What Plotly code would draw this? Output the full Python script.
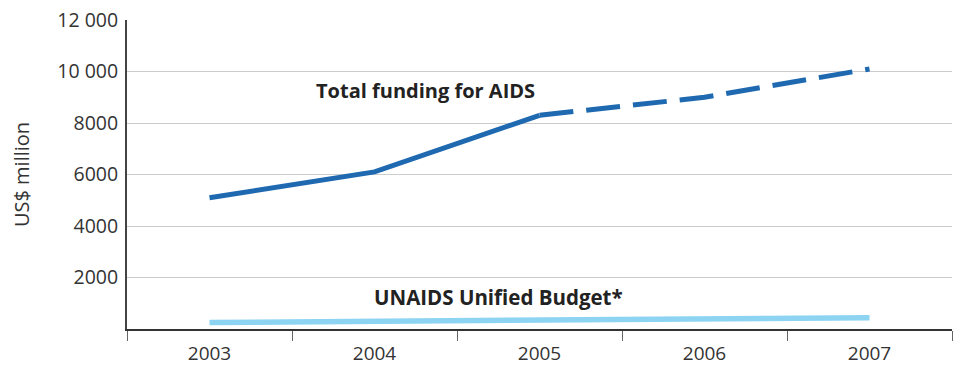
import plotly.graph_objects as go

years = ["2003", "2004", "2005", "2006", "2007"]
total_funding = [5100, 6100, 8300, 9000, 10100]
unified_budget = [250, 290, 320, 400, 440]
ytick_vals = [2000, 4000, 6000, 8000, 10000, 12000]
ytick_text = ["2000", "4000", "6000", "8000", "10 000", "12 000"]

DARK_BLUE = "#1f69b0"
LIGHT_BLUE = "#8dd4f3"
FONT = "'Open Sans', Lato, sans-serif"

fig = go.Figure()

# Actual totals (solid) up to 2005, projections (dashed) afterwards
fig.add_trace(go.Scatter(
    x=years[:3], y=total_funding[:3], mode="lines",
    line=dict(color=DARK_BLUE, width=5), hoverinfo="skip", showlegend=False,
))
fig.add_trace(go.Scatter(
    x=years[2:], y=total_funding[2:], mode="lines",
    line=dict(color=DARK_BLUE, width=5, dash="34px,13px"),
    hoverinfo="skip", showlegend=False,
))
fig.add_trace(go.Scatter(
    x=years, y=unified_budget, mode="lines",
    line=dict(color=LIGHT_BLUE, width=5.5), hoverinfo="skip", showlegend=False,
))

fig.add_annotation(x=1.31, y=9250, text="<b>Total funding for AIDS</b>",
                   showarrow=False, font=dict(family=FONT, size=20, color="#222"))
fig.add_annotation(x=1.75, y=1250, text="<b>UNAIDS Unified Budget*</b>",
                   showarrow=False, font=dict(family=FONT, size=20.5, color="#222"))

fig.update_layout(
    width=956, height=371,
    margin=dict(l=127, r=4, t=20, b=42),
    paper_bgcolor="white", plot_bgcolor="white",
    font=dict(family=FONT, color="#333"),
    xaxis=dict(
        type="category", range=[-0.5, 4.5], tickson="boundaries",
        ticks="outside", ticklen=10, tickcolor="#666", tickwidth=1,
        showline=True, linecolor="#333", linewidth=2,
        showgrid=False, tickfont=dict(size=19, color="#333"),
        ticklabelstandoff=6,
    ),
    yaxis=dict(
        range=[0, 12000], tickvals=ytick_vals, ticktext=ytick_text,
        showgrid=True, gridcolor="#cccccc", gridwidth=1,
        zeroline=False, showline=True, linecolor="#444", linewidth=2,
        ticks="", tickfont=dict(size=19.5, color="#333"),
        ticklabelstandoff=3,
        title=dict(text="US$ million", font=dict(size=20, color="#333"), standoff=22),
    ),
)

fig.write_html("out.html")
